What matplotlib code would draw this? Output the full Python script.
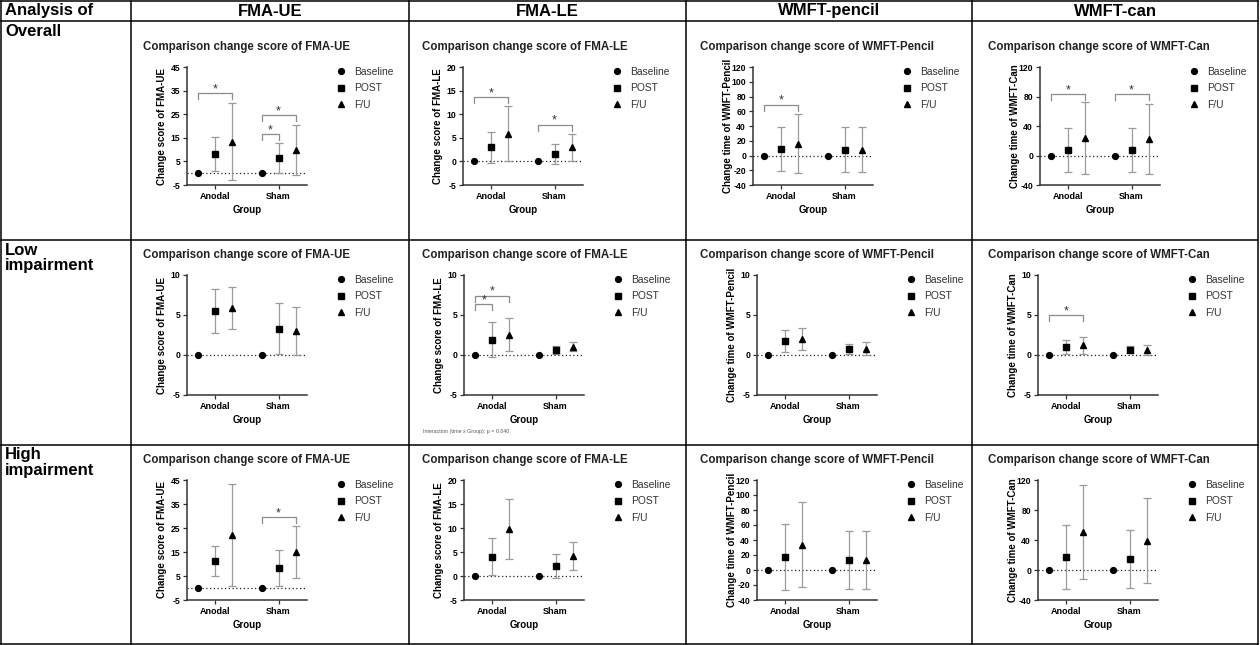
import matplotlib
matplotlib.use('Agg')
import matplotlib.pyplot as plt
from matplotlib.lines import Line2D
import numpy as np

plt.rcParams['font.family'] = ['Liberation Sans', 'DejaVu Sans']

W, H = 1260, 645

# ---- data ----
row_labels = ["Overall", "Low\nimpairment", "High\nimpairment"]
col_labels = ["FMA-UE", "FMA-LE", "WMFT-pencil", "WMFT-can"]
panel_names = ["FMA-UE", "FMA-LE", "WMFT-Pencil", "WMFT-Can"]
ylabels = ["Change score of FMA-UE", "Change score of FMA-LE",
           "Change time of WMFT-Pencil", "Change time of WMFT-Can"]
groups = ["Anodal", "Sham"]
timepoints = ["Baseline", "POST", "F/U"]

baseline_mean = [0, 0]

# [row][col] -> (Anodal, Sham)
post_mean = [
    [[8.2, 6.4], [2.95, 1.5], [8.5, 8.0], [7.8, 7.8]],
    [[5.45, 3.3], [1.9, 0.58], [1.72, 0.75], [0.98, 0.68]],
    [[11.25, 8.5], [4.05, 2.05], [17.0, 13.4], [16.8, 14.4]],
]
post_sd = [
    [[7.2, 6.5], [3.2, 2.1], [30.0, 30.0], [30.0, 30.0]],
    [[2.75, 3.2], [2.2, 0.5], [1.4, 0.58], [0.9, 0.45]],
    [[6.25, 7.5], [3.8, 2.45], [44.3, 38.4], [42.6, 38.4]],
]
fu_mean = [
    [[13.4, 9.9], [5.9, 2.95], [16.2, 8.0], [23.6, 22.5]],
    [[5.85, 3.05], [2.55, 1.05], [2.0, 0.8], [1.2, 0.62]],
    [[22.0, 14.9], [9.75, 4.25], [33.6, 13.4], [50.6, 39.1]],
]
fu_sd = [
    [[16.2, 10.5], [5.9, 2.85], [40.3, 30.0], [48.9, 47.8]],
    [[2.6, 3.0], [2.1, 0.55], [1.42, 0.8], [1.05, 0.65]],
    [[21.2, 10.9], [6.25, 2.9], [56.9, 38.4], [62.8, 56.6]],
]

y_ticks = [
    [list(range(-5, 46, 10)), list(range(-5, 21, 5)),
     list(range(-40, 121, 20)), list(range(-40, 121, 40))],
    [[-5, 0, 5, 10]] * 4,
    [list(range(-5, 46, 10)), list(range(-5, 21, 5)),
     list(range(-40, 121, 20)), list(range(-40, 121, 40))],
]

# significance brackets: (row, col, group, from timepoint, to timepoint, level)
brackets = [
    (0, 0, 0, 0, 2, 33.8), (0, 0, 1, 0, 1, 16.6), (0, 0, 1, 0, 2, 24.6),
    (0, 1, 0, 0, 2, 13.6), (0, 1, 1, 0, 2, 7.8),
    (0, 2, 0, 0, 2, 68.8),
    (0, 3, 0, 0, 2, 82.8), (0, 3, 1, 0, 2, 82.8),
    (1, 1, 0, 0, 1, 6.36), (1, 1, 0, 0, 2, 7.4),
    (1, 3, 0, 0, 2, 5.0),
    (2, 0, 1, 0, 2, 29.4),
]

note = "Interaction (time x Group): p = 0.040"

# ---- layout (pixels) ----
col_x = [1, 130.5, 409, 686, 972, 1258]
row_y = [1, 21, 240, 444.5, 644]
ax_left = [[187, 463, 753, 1040], [187, 464, 757, 1038], [187, 464, 757, 1038]]
ax_top = [67, 275, 480]
ax_bottom = [185, 395, 600]
ax_w = 120
title_x = [143, 422, 700, 988]
title_y = [47, 255, 460]
offset = 0.27

err_col = '#9a9a9a'
axis_col = '#333333'

fig = plt.figure(figsize=(W / 100, H / 100), dpi=100)

# table grid
for y in row_y:
    fig.add_artist(Line2D([col_x[0] / W, col_x[-1] / W], [1 - y / H, 1 - y / H],
                          color='black', lw=1.1))
for x in col_x:
    fig.add_artist(Line2D([x / W, x / W], [1 - row_y[0] / H, 1 - row_y[-1] / H],
                          color='black', lw=1.1))

fig.text(5 / W, 1 - 11 / H, "Analysis of", fontsize=12, fontweight='bold', va='center')
for c, lab in enumerate(col_labels):
    cx = (col_x[c + 1] + col_x[c + 2]) / 2
    fig.text(cx / W, 1 - 11 / H, lab, fontsize=12, fontweight='bold',
             ha='center', va='center')
for r, lab in enumerate(row_labels):
    fig.text(5 / W, 1 - (row_y[r + 1] + 3) / H, lab, fontsize=12, fontweight='bold',
             va='top', linespacing=1.0)

x = np.arange(len(groups))
xpos = [x - offset, x, x + offset]

for r in range(3):
    for c in range(4):
        l = ax_left[r][c]
        h = ax_bottom[r] - ax_top[r]
        ax = fig.add_axes([l / W, 1 - ax_bottom[r] / H, ax_w / W, h / H])
        ticks = y_ticks[r][c]
        ax.set_ylim(ticks[0], ticks[-1])
        ax.set_xlim(-0.45, 1.45)
        dpp = (ticks[-1] - ticks[0]) / h

        ax.axhline(0, color='#222222', lw=0.9, ls=(0, (1, 2)), zorder=1)

        ax.errorbar(xpos[1], post_mean[r][c], yerr=post_sd[r][c], fmt='none',
                    ecolor=err_col, elinewidth=0.9, capsize=2.6, capthick=0.9, zorder=2)
        ax.errorbar(xpos[2], fu_mean[r][c], yerr=fu_sd[r][c], fmt='none',
                    ecolor=err_col, elinewidth=0.9, capsize=2.6, capthick=0.9, zorder=2)
        ax.plot(xpos[0], baseline_mean, 'o', color='black', ms=4.2, ls='none',
                label=timepoints[0], zorder=3)
        ax.plot(xpos[1], post_mean[r][c], 's', color='black', ms=4.2, ls='none',
                label=timepoints[1], zorder=3)
        ax.plot(xpos[2], fu_mean[r][c], '^', color='black', ms=4.0, ls='none',
                label=timepoints[2], zorder=3)

        for (br, bc, g, t0, t1, lvl) in brackets:
            if br != r or bc != c:
                continue
            x0, x1 = xpos[t0][g], xpos[t1][g]
            leg = 6 * dpp
            ax.plot([x0, x0, x1, x1], [lvl - leg, lvl, lvl, lvl - leg],
                    color='#8c8c8c', lw=0.9, clip_on=False)
            ax.text((x0 + x1) / 2, lvl + 1 * dpp, '*', ha='center', va='baseline',
                    fontsize=9, color='#333333')

        for s in ['top', 'right']:
            ax.spines[s].set_visible(False)
        for s in ['left', 'bottom']:
            ax.spines[s].set_color(axis_col)
            ax.spines[s].set_linewidth(1.1)
        ax.set_yticks(ticks)
        ax.set_yticklabels([str(t) for t in ticks], fontsize=6.2, fontweight='bold')
        ax.set_xticks(x)
        ax.set_xticklabels(groups, fontsize=6.5, fontweight='bold')
        ax.tick_params(direction='out', length=3, width=0.9, color=axis_col, pad=2)

        ax.set_xlabel("Group", fontsize=7, fontweight='bold')
        ax.xaxis.set_label_coords(0.5, -20 / h)
        ax.set_ylabel(ylabels[c], fontsize=7, fontweight='bold')
        ax.yaxis.set_label_coords(-20 / ax_w, 0.5)

        ax.legend(loc='upper left', bbox_to_anchor=(1.24, 1.0), frameon=False,
                  fontsize=7.4, handlelength=1.0, handletextpad=0.8,
                  labelspacing=0.62, borderpad=0, borderaxespad=0,
                  labelcolor='#333333')

        fig.text(title_x[c] / W, 1 - title_y[r] / H,
                 "Comparison change score of " + panel_names[c],
                 fontsize=8.3, fontweight='bold', va='center', color='#222222')

fig.text(423 / W, 1 - 432 / H, note, fontsize=3.8, color='#555555', va='center')

fig.savefig('out.png', dpi=100)
